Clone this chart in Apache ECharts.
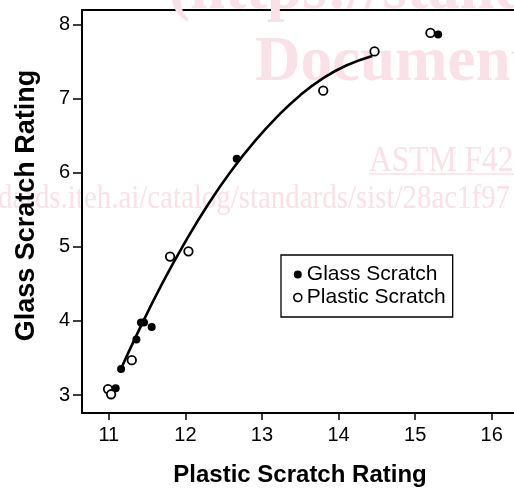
<!DOCTYPE html>
<html>
<head>
<meta charset="utf-8">
<script src="https://cdn.jsdelivr.net/npm/echarts@6/dist/echarts.min.js"></script>
<style>
html,body{margin:0;padding:0;background:#fff;}
#chart{width:514px;height:489px;}
</style>
</head>
<body>
<div id="chart"></div>
<script>
// Data
const glassX = [15.30, 12.67, 11.42, 11.46, 11.56, 11.36, 11.16, 11.09];
const glassY = [7.87, 6.19, 3.98, 3.98, 3.92, 3.75, 3.35, 3.09];
const plasticX = [15.20, 14.47, 13.80, 11.80, 12.04, 11.30, 10.99, 11.03];
const plasticY = [7.89, 7.64, 7.11, 4.87, 4.94, 3.47, 3.08, 3.01];
const fitX = [11.14, 11.40, 11.70, 12.00, 12.30, 12.60, 12.90, 13.20, 13.50, 13.80, 14.10, 14.44];
const fitY = [3.31, 3.89, 4.51, 5.07, 5.58, 6.03, 6.42, 6.76, 7.05, 7.28, 7.45, 7.58];
const xTicks = [11, 12, 13, 14, 15, 16];
const yTicks = [3, 4, 5, 6, 7, 8];

const zip = (a, b) => a.map((v, i) => [v, b[i]]);
const wm = '#fae0e7';
const fontFam = '"Liberation Sans", Arial, sans-serif';

const chart = echarts.init(document.getElementById('chart'));
chart.setOption({
  animation: false,
  backgroundColor: '#fff',
  graphic: [
    { type: 'text', z: 0, x: 169, y: -8,
      style: { text: '(https://standards.iteh.ai)', font: 'bold 63px "Liberation Serif"', fill: wm, verticalAlign: 'middle' } },
    { type: 'text', z: 0, x: 255, y: 64,
      style: { text: 'Document', font: 'bold 63px "Liberation Serif"', fill: wm, verticalAlign: 'middle' } },
    { type: 'text', z: 0, x: 369, y: 162, scaleX: 0.9,
      style: { text: 'ASTM F42', font: '35px "Liberation Serif"', fill: wm, verticalAlign: 'middle' } },
    { type: 'line', z: 0, shape: { x1: 369, y1: 174, x2: 514, y2: 174 },
      style: { stroke: wm, lineWidth: 1.5 } },
    { type: 'text', z: 0, x: -2, y: 199, scaleX: 0.85,
      style: { text: 'dards.iteh.ai/catalog/standards/sist/28ac1f97', font: '34px "Liberation Serif"', fill: wm, verticalAlign: 'middle' } }
  ],
  grid: {
    left: 82, top: 10, width: 448, height: 403,
    outerBoundsMode: 'none', containLabel: false,
    show: true, borderColor: '#000', borderWidth: 2, backgroundColor: 'transparent'
  },
  legend: {
    left: 281, top: 255, orient: 'vertical',
    padding: [9, 7, 9, 12], itemGap: 2,
    borderColor: '#000', borderWidth: 1.3,
    itemWidth: 8, itemHeight: 8,
    textStyle: { fontFamily: fontFam, fontSize: 21, color: '#000' },
    data: [
      { name: 'Glass Scratch', icon: 'circle', itemStyle: { color: '#000', borderWidth: 0 } },
      { name: 'Plastic Scratch', icon: 'circle', itemStyle: { color: '#fff', borderColor: '#000', borderWidth: 1.6 } }
    ]
  },
  xAxis: {
    type: 'value', min: 10.65, max: 16.5,
    name: 'Plastic Scratch Rating', nameLocation: 'middle', nameGap: 50,
    nameTextStyle: { fontFamily: fontFam, fontSize: 24, fontWeight: 'bold', color: '#000', padding: [0, 12, 0, 0] },
    axisLine: { show: true, lineStyle: { color: '#000', width: 2 } },
    axisTick: { show: true, length: 7, customValues: xTicks, lineStyle: { color: '#000', width: 1.5 } },
    axisLabel: { customValues: xTicks, margin: 12, fontFamily: fontFam, fontSize: 20, color: '#000' },
    splitLine: { show: false }
  },
  yAxis: {
    type: 'value', min: 2.757, max: 8.2,
    name: 'Glass Scratch Rating', nameLocation: 'middle', nameGap: 42,
    nameTextStyle: { fontFamily: fontFam, fontSize: 27, fontWeight: 'bold', color: '#000', padding: [0, 0, 0, 12] },
    axisLine: { show: true, lineStyle: { color: '#000', width: 2 } },
    axisTick: { show: true, length: 9, customValues: yTicks, lineStyle: { color: '#000', width: 1.5 } },
    axisLabel: { customValues: yTicks, margin: 12, fontFamily: fontFam, fontSize: 20, color: '#000' },
    splitLine: { show: false }
  },
  series: [
    { name: 'Fit', type: 'line', data: zip(fitX, fitY), smooth: true, showSymbol: false,
      lineStyle: { color: '#000', width: 2.6 }, z: 2, silent: true },
    { name: 'Glass Scratch', type: 'scatter', data: zip(glassX, glassY), symbol: 'circle', symbolSize: 8,
      itemStyle: { color: '#000', opacity: 1 }, z: 3 },
    { name: 'Plastic Scratch', type: 'scatter', data: zip(plasticX, plasticY), symbol: 'circle', symbolSize: 8.5,
      itemStyle: { color: '#fff', borderColor: '#000', borderWidth: 1.8, opacity: 1 }, z: 4 }
  ]
});
</script>
</body>
</html>
